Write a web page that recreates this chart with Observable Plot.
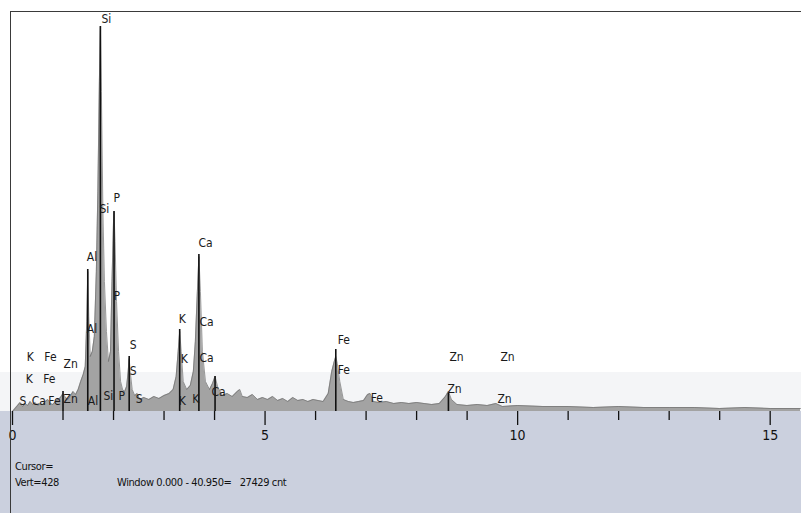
<!DOCTYPE html>
<html><head><meta charset="utf-8">
<script src="https://cdn.jsdelivr.net/npm/d3@7"></script>
<script src="https://cdn.jsdelivr.net/npm/@observablehq/plot@0.6"></script>
<style>
html,body{margin:0;padding:0;background:#fff;}
#wrap{position:relative;width:801px;height:513px;overflow:hidden;background:linear-gradient(to bottom,#fff 0,#fff 372px,#f4f5f7 372px,#f4f5f7 411px,#cbd0de 411px,#cbd0de 100%);font-family:"DejaVu Sans Condensed","DejaVu Sans",sans-serif;font-stretch:condensed;}
#chart svg{display:block;font-stretch:condensed;}
.info{position:absolute;font-size:11px;color:#111;line-height:14px;white-space:pre;letter-spacing:-0.4px;}
.topline{position:absolute;left:11px;top:11px;width:790px;height:0;border-top:1.5px solid #3a3a3a;}
.leftline{position:absolute;left:10px;top:11px;width:0;height:502px;border-left:1.5px solid #3a3a3a;}
</style></head>
<body>
<div id="wrap">
<div id="chart"></div>
<div class="topline"></div>
<div class="leftline"></div>
<div class="info" style="left:15px;top:460px">Cursor=</div>
<div class="info" style="left:15px;top:476px">Vert=428</div>
<div class="info" style="left:117px;top:476px">Window 0.000 - 40.950=   27429 cnt</div>
</div>
<script>
// Spectrum (energy keV, counts)
const energy = [0.0,0.05,0.1,0.15,0.2,0.25,0.3,0.35,0.4,0.45,0.5,0.55,0.6,0.65,0.7,0.75,0.8,0.85,0.9,0.95,
  1.0,1.05,1.1,1.15,1.2,1.25,1.3,1.35,1.4,1.44,1.47,1.49,1.51,1.54,1.58,1.62,1.66,1.69,1.72,1.74,1.76,1.79,1.82,1.86,1.9,1.94,1.97,2.0,2.01,2.03,2.06,2.1,2.14,2.18,2.22,2.26,2.29,2.31,2.33,2.37,2.42,2.47,2.52,2.6,2.7,2.8,2.9,3.0,3.1,3.18,3.24,3.28,3.31,3.34,3.38,3.45,3.52,3.58,3.62,3.66,3.69,3.72,3.76,3.82,3.9,3.96,4.01,4.06,4.15,4.25,4.35,4.45,4.5,4.55,4.65,4.75,4.85,4.95,5.05,5.15,5.25,5.35,5.45,5.55,5.65,5.75,5.85,5.95,6.05,6.15,6.25,6.32,6.37,6.4,6.43,6.48,6.55,6.65,6.75,6.85,6.95,7.03,7.08,7.14,7.25,7.4,7.55,7.7,7.85,8.0,8.15,8.3,8.45,8.57,8.63,8.69,8.8,9.0,9.2,9.4,9.57,9.7,10.0,10.5,11.0,11.5,12.0,12.5,13.0,13.5,14.0,14.5,15.0,15.6];
const counts = [0,3,6,9,5,8,6,10,7,9,6,8,7,10,12,8,7,10,12,14,
  18,14,12,16,20,17,22,30,37,45,90,140,95,55,60,75,140,220,330,385,320,200,130,80,50,60,130,190,200,170,110,60,30,22,20,25,40,53,40,22,16,18,12,14,12,15,13,16,18,22,35,60,80,60,30,22,26,40,70,120,155,120,60,30,22,28,35,25,16,18,15,20,22,15,14,17,12,14,12,15,11,13,10,14,11,12,10,12,11,10,18,40,50,55,48,30,12,10,9,10,11,17,18,10,9,10,8,9,8,9,8,7,8,15,20,12,7,6,7,6,8,5,6,5,5,4,5,4,4,4,3,4,3,3];

// Dark peak lines
const peakE = [1.0,1.49,1.74,2.01,2.31,3.31,3.69,4.01,6.40,8.63];
const peakH = [20,142,385,200,55,82,157,35,62,18];

// Line labels
const labelText = ["Si","P","Si","Al","Ca","P","Al","K","Ca","S","K","Ca","S","K","Fe","Zn","K","Fe","S","Ca","Fe","Zn","Al","Si","P","S","K","K","Ca","Fe","Fe","Fe","Zn","Zn","Zn","Zn"];
const labelE = [1.76,2.00,1.72,1.47,3.68,2.00,1.47,3.29,3.70,2.32,3.33,3.70,2.32,0.28,0.63,1.01,0.26,0.61,0.14,0.38,0.71,1.01,1.49,1.80,2.10,2.44,3.29,3.56,3.94,6.44,6.44,7.09,8.65,9.66,8.61,9.60];
const labelH = [392,213,202,154,168,115,82,92,89,66,52,53,40,54,54,47,32,32,10,10,10,12,10,15,15,12,10,12,19,71,41,13,54,54,22,12];

const majorTicks = [0,5,10,15];
const minorTicks = [1,2,3,4,6,7,8,9,11,12,13,14];

const spectrum = energy.map((e,i)=>({e, c: counts[i]}));
const peaks = peakE.map((e,i)=>({e, h: peakH[i]}));
const labels = labelText.map((t,i)=>({t, e: labelE[i], h: labelH[i]}));

const font = '"DejaVu Sans Condensed","DejaVu Sans",sans-serif';
const chart = Plot.plot({
  width: 801, height: 513,
  marginLeft: 12, marginRight: 1, marginTop: 12, marginBottom: 102,
  style: {background: "transparent", fontFamily: font, color: "#111", overflow: "visible"},
  x: {domain: [0, 15.6]},
  y: {domain: [0, 399], axis: null},
  marks: [
    Plot.areaY(spectrum, {x: "e", y: "c", fill: "#a3a3a3", curve: "linear"}),
    Plot.lineY(spectrum, {x: "e", y: "c", stroke: "#707070", strokeWidth: 0.7}),
    Plot.ruleX(peaks, {x: "e", y1: 0, y2: "h", stroke: "#111", strokeWidth: 1.6}),
    Plot.text(labels, {x: "e", y: "h", text: "t", textAnchor: "start", lineAnchor: "middle", fontSize: 12, fill: "#1a1a1a"}),
    Plot.axisX({ticks: minorTicks, tickSize: 9, tickFormat: () => "", label: null, stroke: "#111", strokeWidth: 1.3}),
    Plot.axisX({ticks: majorTicks, tickSize: 14, tickPadding: 5, fontSize: 14, label: null, stroke: "#111", strokeWidth: 1.3, tickFormat: d => String(d)})
  ]
});
document.getElementById("chart").appendChild(chart);
</script>
</body></html>
